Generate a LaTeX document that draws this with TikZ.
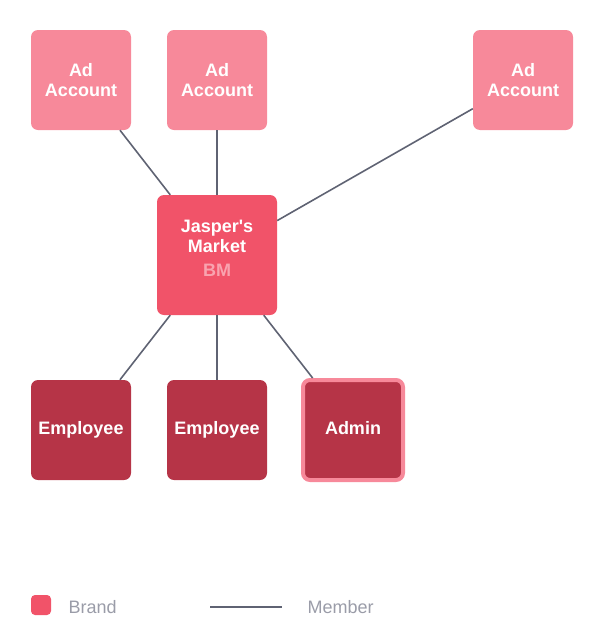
\documentclass[tikz,border=0pt]{standalone}
\usepackage{fontspec}
\setmainfont{Liberation Sans}
\usepackage{tikz}

\definecolor{adpink}{HTML}{F7899A}
\definecolor{bmred}{HTML}{F15369}
\definecolor{empred}{HTML}{B63447}
\definecolor{bmsub}{HTML}{F9A3AF}
\definecolor{linkgray}{HTML}{5F6373}
\definecolor{keygray}{HTML}{9A9CA8}

\tikzset{
  box/.style={rectangle, rounded corners=7pt, minimum size=100pt, inner sep=0pt,
    align=center, text=white, font=\fontsize{18}{20}\selectfont\bfseries},
  adbox/.style={box, fill=adpink},
  bmbox/.style={box, fill=bmred, minimum size=120pt},
  empbox/.style={box, fill=empred, text height=13pt, text depth=4pt},
  adminbox/.style={empbox, draw=adpink, line width=4pt},
  link/.style={draw=linkgray, line width=1.6pt},
  keytext/.style={anchor=west, text=keygray, font=\fontsize{18}{20}\selectfont}
}

\begin{document}
\begin{tikzpicture}[x=1pt,y=-1pt]
    %initialisation
    \useasboundingbox (0,0) rectangle (607,643);
    %definitions
    \node[adbox] (acc1) at (81,80) {Ad\\Account};
    \node[adbox] (acc2) at (217,80) {Ad\\Account};
    \node[adbox] (acc3) at (523,80) {Ad\\Account};
    \node[bmbox] (bm) at (217,255) {};
    \node[empbox] (emp1) at (81,430) {Employee};
    \node[empbox] (emp2) at (217,430) {Employee};
    \node[adminbox] (admin) at (353,430) {Admin};
    %drawing
    \foreach \n in {acc1,acc2,acc3,emp1,emp2,admin}
      \draw[link] (bm) -- (\n);
    %label
    \node[box, minimum size=0pt] (bmname) at (217,248) {Jasper\textquotesingle s\\Market\\[4pt]{\color{bmsub}BM}};
    %legend
    \node[rectangle, rounded corners=4pt, fill=bmred, minimum size=20pt, inner sep=0pt] (brandkey) at (41,605) {};
    \node[keytext] (brandtext) at (65,607) {Brand};
    \coordinate (memberA) at (210,607);
    \coordinate (memberB) at (282,607);
    \draw[link] (memberA) -- (memberB);
    \node[keytext] (membertext) at (304,607) {Member};
\end{tikzpicture}
\end{document}
